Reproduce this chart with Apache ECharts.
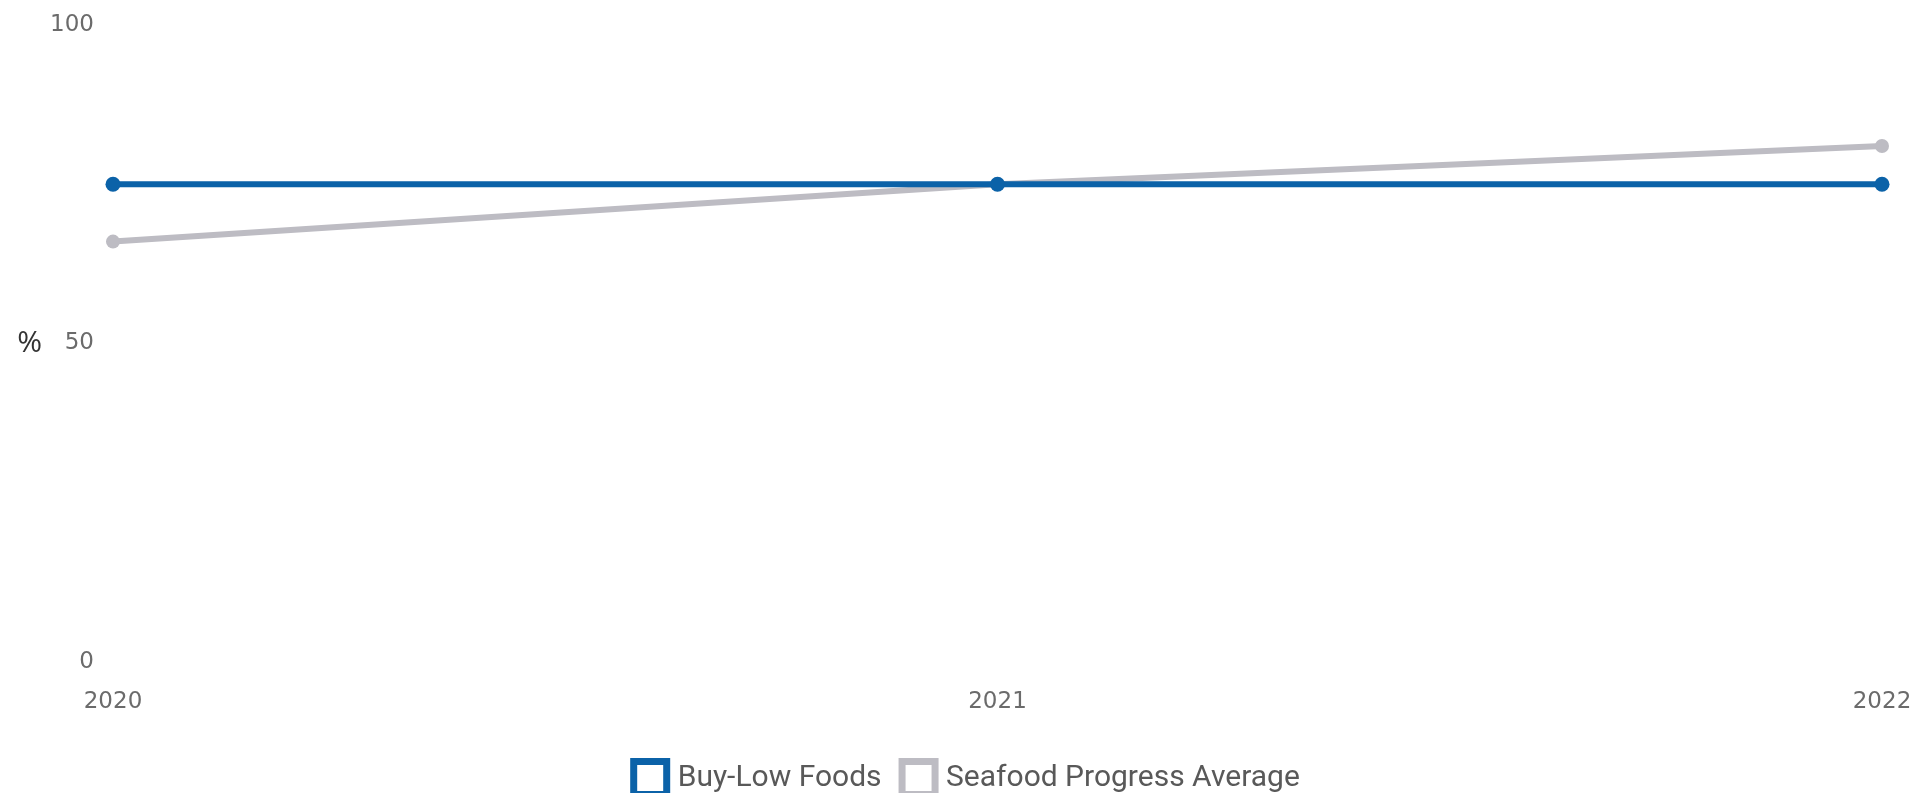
<!DOCTYPE html>
<html>
<head>
<meta charset="utf-8">
<title>Buy-Low Foods vs Seafood Progress Average</title>
<script src="https://cdn.jsdelivr.net/npm/echarts@6/dist/echarts.min.js"></script>
<style>
  html, body { margin: 0; padding: 0; background: #ffffff; }
  #chart { width: 1930px; height: 793px; }
</style>
</head>
<body>
<div id="chart"></div>
<script>
// Reporting years on the x axis
const years = ['2020', '2021', '2022'];

// Percent values per year
const buyLowFoods = [75, 75, 75];
const seafoodProgressAverage = [66, 75, 81];

// Y axis range and step
const yMin = 0;
const yMax = 100;
const yStep = 50;

const BLUE = '#0b62a8';
const GREY = '#bdbcc3';

const chart = echarts.init(document.getElementById('chart'), null, { renderer: 'canvas' });

chart.setOption({
  animation: false,
  backgroundColor: '#ffffff',
  grid: { left: 113, right: 48, top: 25, bottom: 131, containLabel: false },
  legend: {
    left: 'center',
    top: 753,
    itemWidth: 33,
    itemHeight: 33,
    itemGap: 17,
    data: [
      { name: 'Buy-Low Foods', icon: 'rect', itemStyle: { color: '#ffffff', borderColor: BLUE, borderWidth: 7 } },
      { name: 'Seafood Progress Average', icon: 'rect', itemStyle: { color: '#ffffff', borderColor: GREY, borderWidth: 7 } }
    ],
    textStyle: {
      fontFamily: '"Liberation Sans Narrow", "Roboto", sans-serif',
      fontSize: 30,
      color: '#595959',
      padding: [0, 0, 0, 6]
    }
  },
  xAxis: {
    type: 'category',
    data: years,
    boundaryGap: false,
    axisLine: { show: false },
    axisTick: { show: false },
    splitLine: { show: false },
    axisLabel: {
      margin: 29,
      fontFamily: '"DejaVu Sans", sans-serif',
      fontSize: 23,
      color: '#6b6b6b'
    }
  },
  yAxis: {
    type: 'value',
    min: yMin,
    max: yMax,
    interval: yStep,
    name: '%',
    nameLocation: 'middle',
    nameRotate: 0,
    nameGap: 71,
    nameTextStyle: {
      fontFamily: '"Open Sans", sans-serif',
      fontSize: 30,
      color: '#333333',
      padding: [12, 0, 0, 0]
    },
    axisLine: { show: false },
    axisTick: { show: false },
    splitLine: { show: false },
    axisLabel: {
      margin: 19,
      fontFamily: '"DejaVu Sans", sans-serif',
      fontSize: 23,
      color: '#6b6b6b'
    }
  },
  series: [
    {
      name: 'Seafood Progress Average',
      type: 'line',
      data: seafoodProgressAverage,
      z: 2,
      symbol: 'circle',
      symbolSize: 14,
      showAllSymbol: true,
      lineStyle: { color: GREY, width: 6 },
      itemStyle: { color: GREY },
      emphasis: { disabled: true }
    },
    {
      name: 'Buy-Low Foods',
      type: 'line',
      data: buyLowFoods,
      z: 3,
      symbol: 'circle',
      symbolSize: 15,
      showAllSymbol: true,
      lineStyle: { color: BLUE, width: 6 },
      itemStyle: { color: BLUE },
      emphasis: { disabled: true }
    }
  ]
});
</script>
</body>
</html>
